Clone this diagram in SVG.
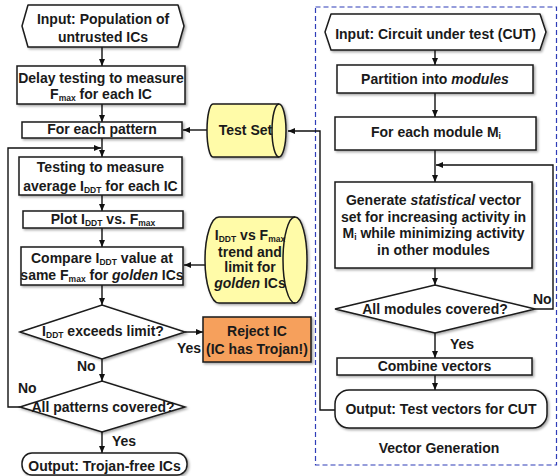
<svg xmlns="http://www.w3.org/2000/svg" width="559" height="476" viewBox="0 0 559 476">
<defs>
<filter id="sh" x="-10%" y="-10%" width="130%" height="140%">
<feDropShadow dx="1.5" dy="1.5" stdDeviation="0.8" flood-color="#000" flood-opacity="0.35"/>
</filter>
<marker id="ah" markerUnits="userSpaceOnUse" markerWidth="8" markerHeight="8" refX="7" refY="4" orient="auto">
<path d="M0,1 L7,4 L0,7 Z" fill="#111"/>
</marker>
</defs>
<style>
text{font-family:"Liberation Sans",Arial,sans-serif;font-weight:bold;font-size:14px;fill:#1a1a1a;text-anchor:middle}
.lbl{text-anchor:start}
.sub{font-size:8.5px}
.it{font-style:italic}
.box{fill:#fff;stroke:#1a1a1a;stroke-width:1.5;filter:url(#sh)}
.cyl{fill:#FFFBA8;stroke:#1a1a1a;stroke-width:1.5;filter:url(#sh)}
.cylin{fill:none;stroke:#1a1a1a;stroke-width:1.5}
.rej{fill:#F6A05C;stroke:#1a1a1a;stroke-width:1.5;filter:url(#sh)}
.c{fill:none;stroke:#111;stroke-width:1.4}
.ca{fill:none;stroke:#111;stroke-width:1.4;marker-end:url(#ah)}
</style>

<rect id="vector-generation-frame" x="315.5" y="7" width="241" height="458" fill="none" stroke="#2F3DB8" stroke-width="1.2" stroke-dasharray="5 3"/>

<g id="connectors">
<line class="ca" x1="102" y1="47" x2="102" y2="66"/>
<line class="ca" x1="102" y1="104" x2="102" y2="122"/>
<line class="ca" x1="102" y1="138" x2="102" y2="157"/>
<polyline class="ca" points="20,407 8,407 8,148 101,148"/>
<line class="ca" x1="102" y1="195" x2="102" y2="211"/>
<line class="ca" x1="102" y1="228" x2="102" y2="247"/>
<line class="ca" x1="102" y1="285" x2="102" y2="305"/>
<line class="ca" x1="102" y1="359" x2="102" y2="381"/>
<line class="ca" x1="102" y1="432" x2="102" y2="453"/>
<line class="ca" x1="185" y1="332" x2="203" y2="332"/>
<line class="ca" x1="207" y1="130" x2="183" y2="130"/>
<line class="ca" x1="205" y1="265" x2="184" y2="265"/>
<polyline class="ca" points="335,410 320,410 320,131 288,131"/>
<line class="ca" x1="435" y1="50" x2="435" y2="65"/>
<line class="ca" x1="435" y1="93" x2="435" y2="117"/>
<line class="ca" x1="435" y1="150" x2="435" y2="182"/>
<polyline class="ca" points="535,309 553,309 553,165 436,165"/>
<line class="ca" x1="435" y1="268" x2="435" y2="285"/>
<line class="ca" x1="435" y1="333" x2="435" y2="358"/>
<line class="ca" x1="435" y1="375" x2="435" y2="390"/>
<text class="lbl" x="177" y="353">Yes</text>
<text class="lbl" x="77" y="371">No</text>
<text class="lbl" x="18" y="393">No</text>
<text class="lbl" x="112" y="446">Yes</text>
<text class="lbl" x="533" y="304">No</text>
<text class="lbl" x="450" y="349">Yes</text>
</g>

<g id="input-population">
<path class="box" d="M28,5 H178 L184,26 L178,47 H28 L22,26 Z" stroke-linejoin="round"/>
<text x="103" y="23.5">Input: Population of</text>
<text x="103" y="41.5">untrusted ICs</text>
</g>
<g id="delay-testing">
<rect class="box" x="17" y="66" width="168" height="38"/>
<text x="101" y="83">Delay testing to measure</text>
<text x="101" y="99">F<tspan class="sub" dy="2">max</tspan><tspan dy="-2"> for each IC</tspan></text>
</g>
<g id="for-each-pattern">
<rect class="box" x="22" y="122" width="160" height="16"/>
<text x="102" y="134">For each pattern</text>
</g>
<g id="testing-iddt">
<rect class="box" x="19" y="157" width="163" height="38"/>
<text x="100.5" y="172">Testing to measure</text>
<text x="100.5" y="191">average I<tspan class="sub" dy="2">DDT</tspan><tspan dy="-2"> for each IC</tspan></text>
</g>
<g id="plot">
<rect class="box" x="23" y="211" width="160" height="17"/>
<text x="103" y="224">Plot I<tspan class="sub" dy="2">DDT</tspan><tspan dy="-2"> vs. F</tspan><tspan class="sub" dy="2">max</tspan></text>
</g>
<g id="compare">
<rect class="box" x="21" y="247" width="162" height="38"/>
<text x="102" y="262.5">Compare I<tspan class="sub" dy="2">DDT</tspan><tspan dy="-2"> value at</tspan></text>
<text x="102" y="280">same F<tspan class="sub" dy="2">max</tspan><tspan dy="-2"> for </tspan><tspan class="it">golden</tspan> ICs</text>
</g>
<g id="iddt-exceeds">
<polygon class="box" points="20,332 102,305 185,332 102,359"/>
<text x="103" y="336">I<tspan class="sub" dy="2">DDT</tspan><tspan dy="-2"> exceeds limit?</tspan></text>
</g>
<g id="reject-ic">
<rect class="rej" x="203" y="317" width="108" height="45"/>
<text x="257" y="336">Reject IC</text>
<text x="257" y="354">(IC has Trojan!)</text>
</g>
<g id="all-patterns">
<polygon class="box" points="20,407 102,381 185,407 102,432"/>
<text x="103" y="411.5">All patterns covered?</text>
</g>
<g id="output-trojan-free">
<rect class="box" x="22" y="453" width="165" height="22" rx="10"/>
<text x="104.5" y="470.5">Output: Trojan-free ICs</text>
</g>
<g id="test-set">
<path class="cyl" d="M213,104 H279 A7,26.5 0 0 1 279,157 H213 A6,26.5 0 0 1 213,104 Z"/>
<path class="cylin" d="M279,104 A7,26.5 0 0 0 279,157"/>
<text x="245.5" y="135">Test Set</text>
</g>
<g id="golden-trend">
<path class="cyl" d="M219,217 H295 A12,43 0 0 1 295,303 H219 A14,43 0 0 1 219,217 Z"/>
<path class="cylin" d="M295,217 A12,43 0 0 0 295,303"/>
<text x="250" y="240">I<tspan class="sub" dy="2">DDT</tspan><tspan dy="-2"> vs F</tspan><tspan class="sub" dy="2">max</tspan></text>
<text x="250" y="256.5">trend and</text>
<text x="250" y="272">limit for</text>
<text x="250" y="287.5"><tspan class="it">golden</tspan> ICs</text>
</g>

<g id="input-cut">
<path class="box" d="M331,14 H540 L546,32 L540,50 H331 L325,32 Z" stroke-linejoin="round"/>
<text x="435.5" y="38.5">Input: Circuit under test (CUT)</text>
</g>
<g id="partition">
<rect class="box" x="337" y="65" width="196" height="28"/>
<text x="435" y="84">Partition into <tspan class="it">modules</tspan></text>
</g>
<g id="for-each-module">
<rect class="box" x="335" y="117" width="201" height="33"/>
<text x="436" y="137">For each module M<tspan class="sub" dy="2">i</tspan></text>
</g>
<g id="generate">
<rect class="box" x="335" y="182" width="197" height="86"/>
<text x="433.5" y="205">Generate <tspan class="it">statistical</tspan> vector</text>
<text x="433.5" y="221.7">set for increasing activity in</text>
<text x="433.5" y="238.3">M<tspan class="sub" dy="2">i</tspan><tspan dy="-2"> while minimizing activity</tspan></text>
<text x="433.5" y="255">in other modules</text>
</g>
<g id="all-modules">
<polygon class="box" points="335,309 435,285 535,309 435,333"/>
<text x="435" y="314">All modules covered?</text>
</g>
<g id="combine">
<rect class="box" x="337" y="358" width="195" height="17"/>
<text x="434.5" y="370.5">Combine vectors</text>
</g>
<g id="output-test-vectors">
<rect class="box" x="335" y="390" width="212" height="38" rx="14"/>
<text x="441" y="414">Output: Test vectors for CUT</text>
</g>
<text id="vector-generation-label" x="439" y="453">Vector Generation</text>
</svg>
